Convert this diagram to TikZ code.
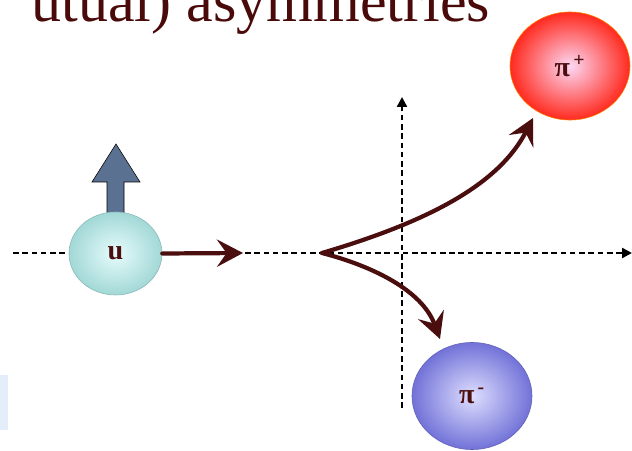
\documentclass[tikz,border=0pt]{standalone}
\usepackage{fontspec}
\setmainfont{Liberation Serif}
\usetikzlibrary{shapes,arrows.meta,positioning,calc}
\definecolor{tiza}{HTML}{4A0E0E}
\definecolor{titulo}{HTML}{4A0A0A}
\definecolor{espin}{HTML}{5B7191}
\definecolor{uin}{HTML}{E6FCFC}
\definecolor{uout}{HTML}{A2D8D6}
\definecolor{rojoin}{HTML}{FCD8F4}
\definecolor{rojoout}{HTML}{FF2A1E}
\definecolor{azulin}{HTML}{DEDEFF}
\definecolor{azulout}{HTML}{7272D8}
\definecolor{resto}{HTML}{E4EDFA}
\tikzset{
    particula/.style 2 args={
        ellipse,                  % bola de la partícula
        inner sep=0pt,            % sin margen, el tamaño lo damos fuera
        inner color=#1,           % centro claro
        outer color=#2,           % borde con el color fuerte
        draw=#2!85!black,         % contorno fino del mismo tono
        thin,
        text=tiza,                % etiqueta en marrón oscuro
        font=\fontsize{20pt}{24pt}\selectfont\bfseries
    },
    eje/.style={
        black,                    % ejes en negro
        line width=1.7pt,
        dash pattern=on 4pt off 2.6pt,
        -{Triangle[length=2.5mm,width=2.5mm]} % punta pequeña y llena
    },
    trayectoria/.style={
        tiza,                     % trazo tipo tiza marrón
        line width=3pt,
        line cap=round,
        -{Stealth[length=6.5mm,width=6.8mm,inset=2.4mm]} % punta grande
    }
}

\begin{document}
\begin{tikzpicture}[x=0.025cm,y=-0.025cm]
    \useasboundingbox (0,0) rectangle (632,451);

    \node[anchor=base east, text=titulo,
          font=\fontsize{42.7pt}{48pt}\selectfont] (titulo) at (495,22) {utual) asymmetries};
    \fill[resto] (0,375) rectangle (8,430);

    % ejes
    \coordinate (izq) at (13,253);
    \coordinate (der) at (632,253);
    \coordinate (abajo) at (402,408);
    \coordinate (arriba) at (402,97);
    \draw[eje] (izq) -- (der);
    \draw[eje] (abajo) -- (arriba);

    % espin del quark
    \draw[black, thin, fill=espin] (107,215) -- (107,182) -- (92,182) -- (116,144)
        -- (140,182) -- (124,182) -- (124,215) -- cycle;

    \node[particula={uin}{uout}, minimum width=23.25mm, minimum height=20.75mm] (u) at (115.5,253.5) {u};
    \node[particula={rojoin}{rojoout}, draw=orange, minimum width=30mm, minimum height=27mm] (pimas) at (570,66) {π\textsuperscript{\,+}};
    \node[particula={azulin}{azulout}, minimum width=30mm, minimum height=26.75mm] (pimenos) at (472,396) {π\textsuperscript{\,-}};

    \coordinate (empuje) at (243,253);
    \coordinate (vertice) at (322,253);
    \coordinate (puntamas) at (533,118);
    \coordinate (puntamenos) at (440,339);

    \draw[trayectoria] (u.east) -- (empuje);
    \draw[trayectoria] (vertice) .. controls (420,224) and (497,188) .. (puntamas);
    \draw[trayectoria] (vertice) .. controls (372,266) and (422,290) .. (puntamenos);
\end{tikzpicture}
\end{document}
